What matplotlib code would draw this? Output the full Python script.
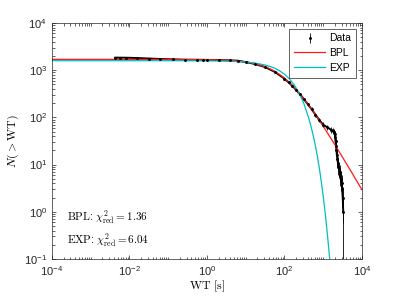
import numpy as np
import matplotlib
matplotlib.use('Agg')
import matplotlib.pyplot as plt
from matplotlib.ticker import LogLocator, NullFormatter, FixedLocator

plt.rcParams['font.family'] = 'Liberation Sans'
plt.rcParams['mathtext.fontset'] = 'custom'
plt.rcParams['mathtext.rm'] = 'Liberation Sans'

# waiting times [s] and cumulative counts
wt_data = [0.0043, 0.0059, 0.0081, 0.016, 0.032, 0.063, 0.13, 0.27, 0.54, 0.79,
           1.0, 2.0, 4.0, 6.3, 10, 17.8, 31.6, 56.2, 100, 129, 158, 200, 251,
           316, 398, 501, 631, 794, 1000, 1259, 1585, 1820, 1950, 2000, 2040,
           2090, 2160, 2210, 2260, 2340, 2400, 2480, 2570, 2660, 2750, 2850,
           3010, 3100, 3200, 3300]
n_data = [1845, 1843, 1840, 1810, 1770, 1730, 1700, 1668, 1662, 1658,
          1652, 1640, 1615, 1590, 1490, 1350, 1165, 925, 665, 550, 470, 385, 310,
          245, 192, 150, 115, 88, 70, 62, 55, 52, 49, 45, 38,
          31, 25, 20, 16, 13, 11, 9, 8, 7, 6, 5,
          4, 3, 2, 1]

# broken power law fit
wt_bpl = [1e-4, 1e-3, 1e-2, 0.1, 1, 3.16, 5.62, 10, 17.8, 31.6, 42.2, 56.2, 75,
          100, 133, 178, 237, 316, 562, 1000, 1778, 3162, 5623, 10000]
n_bpl = [1698, 1698, 1698, 1697, 1678, 1631, 1582, 1500, 1371, 1185, 1070, 945, 812,
         679, 552, 434, 334, 250, 132, 65.2, 31.0, 14.3, 6.53, 2.95]

# exponential fit
wt_exp = [1e-4, 1e-3, 1e-2, 0.1, 1, 3.16, 10, 17.8, 31.6, 42.2, 56.2, 75, 100, 133,
          178, 237, 316, 422, 501, 562, 631, 708, 794, 891, 1000, 1122, 1259,
          1413, 1500]
n_exp = [1590, 1590, 1590, 1589, 1580, 1557, 1489, 1414, 1292, 1204, 1101, 971, 822,
         664, 493, 334, 199, 98.9, 58.6, 39.4, 25.1, 15.2, 8.6, 4.5, 2.21, 0.99,
         0.40, 0.15, 0.082]

chi_bpl = 1.36
chi_exp = 6.04

fig = plt.figure(figsize=(3.99, 2.99), dpi=100)
ax = fig.add_axes([0.130, 0.134, 0.777, 0.789])

wt = np.array(wt_data)
n = np.array(n_data, dtype=float)
ax.plot(wt, n, '-', color='k', lw=1.4)
h_data = ax.errorbar(wt, n, yerr=np.sqrt(n), fmt='.', color='k', ms=2.2,
                     elinewidth=0.6, capsize=0, label='Data')
h_bpl, = ax.plot(wt_bpl, n_bpl, '-', color='#ff1a1a', lw=0.9, label='BPL')
h_exp, = ax.plot(wt_exp, n_exp, '-', color='#00bfbf', lw=0.9, label='EXP')

ax.set_xscale('log')
ax.set_yscale('log')
ax.set_xlim(1e-4, 1e4)
ax.set_ylim(1e-1, 1e4)

ax.xaxis.set_major_locator(FixedLocator([1e-4, 1e-2, 1e0, 1e2, 1e4]))
ax.xaxis.set_minor_locator(LogLocator(base=10, subs=np.arange(1, 10), numticks=20))
ax.xaxis.set_minor_formatter(NullFormatter())
ax.yaxis.set_major_locator(LogLocator(base=10, numticks=10))
ax.yaxis.set_minor_locator(LogLocator(base=10, subs=np.arange(2, 10), numticks=20))
ax.yaxis.set_minor_formatter(NullFormatter())

ax.tick_params(which='both', direction='in', top=True, right=True,
               colors='#262626', width=0.5, labelsize=8)
ax.tick_params(which='major', length=3)
ax.tick_params(which='minor', length=1.8)
for s in ax.spines.values():
    s.set_color('#262626')
    s.set_linewidth(0.5)

ax.set_xlabel(r'$\mathrm{WT\ [s]}$', fontsize=8.5, math_fontfamily='cm', labelpad=1)
ax.set_ylabel(r'$N(>\mathrm{WT})$', fontsize=8.5, math_fontfamily='cm', labelpad=2)

ax.text(0.048, 0.175, r'$\mathrm{BPL}$: $\chi^2_{\mathrm{red}} = %.2f$' % chi_bpl,
        transform=ax.transAxes, fontsize=8, math_fontfamily='cm', va='center')
ax.text(0.048, 0.078, r'$\mathrm{EXP}$: $\chi^2_{\mathrm{red}} = %.2f$' % chi_exp,
        transform=ax.transAxes, fontsize=8, math_fontfamily='cm', va='center')

leg = ax.legend([h_data, h_bpl, h_exp], ['Data', 'BPL', 'EXP'], loc='upper right',
                fontsize=7.5, fancybox=False, framealpha=1,
                edgecolor='#262626', borderpad=0.45, handlelength=3.0,
                labelspacing=0.45, borderaxespad=0.55, handletextpad=0.4)
leg.get_frame().set_linewidth(0.5)

fig.savefig('out.png', dpi=100)
